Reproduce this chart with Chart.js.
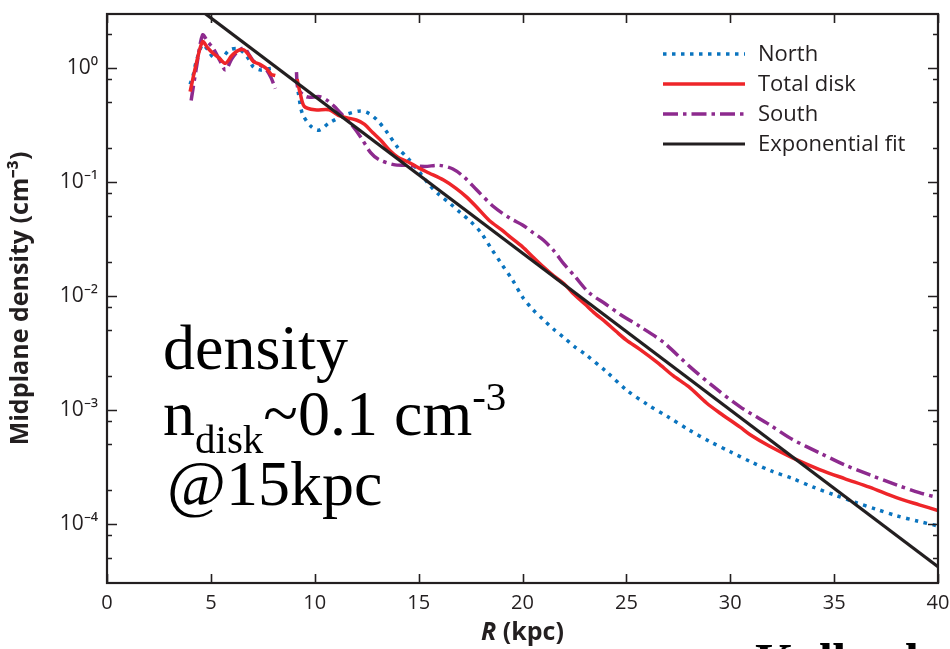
<!DOCTYPE html>
<html>
<head>
<meta charset="utf-8">
<script src="https://cdn.jsdelivr.net/npm/chart.js@4.4.1/dist/chart.umd.min.js"></script>
<style>
  html, body { margin: 0; padding: 0; background: #fff; }
</style>
</head>
<body>
<canvas id="chart" width="950" height="649"></canvas>
<script>
// values (R in kpc, n in cm^-3); null = gap in the curve
const northR = [4.0, 4.15, 4.3, 4.6, 4.85, 5.1, 5.5, 5.9, 6.3, 6.6, 6.85, 7.05, 7.4, 7.7, 8.1, 8.6, 9.2, 9.4, 9.8, 10.2, 10.7, 11.5, 12.2, 12.6, 13.0, 13.5, 14.0, 14.5, 15.0, 15.5, 16.0, 16.5, 17.0, 17.5, 18.0, 18.5, 19.0, 19.5, 20.0, 20.5, 21.0, 21.5, 22.0, 22.5, 23.0, 24.0, 25.0, 26.0, 27.0, 28.0, 29.0, 30.0, 31.0, 32.0, 33.0, 34.0, 35.0, 36.0, 37.0, 38.0, 39.0, 40.0];
const northN = [0.72, 0.87, 1.15, 1.6, 1.45, 1.25, 1.22, 1.44, 1.48, 1.35, 1.18, 1.02, 0.96, 0.98, 1.0, null, 0.62, 0.40, 0.31, 0.285, 0.33, 0.39, 0.42, 0.40, 0.35, 0.27, 0.20, 0.16, 0.125, 0.095, 0.077, 0.065, 0.054, 0.045, 0.036, 0.026, 0.019, 0.014, 0.0098, 0.0076, 0.0062, 0.0051, 0.0043, 0.0036, 0.0031, 0.0022, 0.0015, 0.00112, 0.00087, 0.00067, 0.00053, 0.00043, 0.00035, 0.00029, 0.00025, 0.00021, 0.00018, 0.000155, 0.000135, 0.000118, 0.000106, 0.000096];

const totalR = [4.0, 4.3, 4.6, 4.85, 5.1, 5.4, 5.7, 6.0, 6.3, 6.6, 6.85, 7.05, 7.4, 7.7, 7.9, 8.1, 8.6, 9.15, 9.3, 9.5, 10.0, 10.7, 11.2, 12.0, 12.4, 12.8, 13.2, 13.6, 14.0, 14.5, 15.0, 15.5, 16.2, 16.8, 17.3, 17.8, 18.4, 19.0, 19.4, 20.0, 20.5, 21.0, 21.5, 22.0, 22.4, 23.0, 23.5, 24.0, 24.5, 25.0, 25.65, 26.5, 27.25, 28.0, 28.86, 29.5, 30.46, 31.0, 31.9, 33.0, 34.3, 35.5, 36.7, 38.0, 39.1, 40.0];
const totalN = [0.62, 1.1, 1.70, 1.5, 1.35, 1.22, 1.10, 1.28, 1.42, 1.44, 1.28, 1.14, 1.07, 0.98, 0.88, 0.86, null, 0.80, 0.6, 0.46, 0.43, 0.43, 0.38, 0.35, 0.32, 0.27, 0.23, 0.19, 0.165, 0.15, 0.133, 0.12, 0.104, 0.088, 0.074, 0.06, 0.046, 0.038, 0.033, 0.027, 0.022, 0.018, 0.015, 0.0128, 0.0107, 0.0085, 0.007, 0.0059, 0.0049, 0.0041, 0.0034, 0.0026, 0.0020, 0.0016, 0.00115, 0.00094, 0.00071, 0.0006, 0.00048, 0.00038, 0.0003, 0.00025, 0.00021, 0.00017, 0.000147, 0.000131];

const southR = [4.05, 4.3, 4.6, 4.85, 5.1, 5.4, 5.7, 6.0, 6.3, 6.6, 6.85, 7.05, 7.4, 7.7, 7.9, 8.1, 8.6, 9.12, 9.2, 9.6, 10.25, 10.6, 11.0, 11.2, 11.7, 12.2, 12.7, 13.1, 13.8, 14.4, 15.3, 16.0, 16.65, 17.2, 17.8, 18.6, 19.4, 20.0, 20.5, 21.0, 21.5, 22.0, 22.5, 23.2, 24.0, 24.8, 25.65, 26.8, 28.05, 29.2, 30.46, 31.9, 33.0, 34.3, 35.5, 36.7, 38.0, 39.1, 40.0];
const southN = [0.52, 1.0, 1.95, 1.7, 1.5, 1.2, 0.96, 1.2, 1.4, 1.50, 1.3, 1.15, 1.05, 0.95, 0.82, 0.66, null, 0.92, 0.66, 0.56, 0.56, 0.52, 0.45, 0.41, 0.33, 0.25, 0.18, 0.157, 0.142, 0.14, 0.137, 0.14, 0.13, 0.11, 0.085, 0.061, 0.048, 0.042, 0.036, 0.031, 0.025, 0.019, 0.015, 0.0107, 0.0085, 0.0067, 0.0054, 0.0039, 0.0024, 0.0016, 0.00107, 0.00074, 0.00055, 0.00042, 0.00033, 0.00027, 0.00022, 0.000188, 0.00017];

const fitR = [4.0, 40.0];
const fitN = [3.78, 0.000042];

const xTicks = [0, 5, 10, 15, 20, 25, 30, 35, 40];
const yTicks = [1, 0.1, 0.01, 0.001, 0.0001];
const yMin = 3.03e-5, yMax = 2.98;

const ink = '#231f20';
const sup = { '-': '⁻', '0': '⁰', '1': '¹', '2': '²', '3': '³', '4': '⁴' };
const pow10 = v => '10' + String(Math.round(Math.log10(v))).split('').map(c => sup[c]).join('');
const pts = (xs, ys) => xs.map((r, i) => ({ x: r, y: ys[i] }));

// inward ticks on all four sides plus the box
const frame = {
  id: 'frame',
  afterDraw(chart) {
    const { ctx, chartArea: a, scales: { x, y } } = chart;
    ctx.save();
    ctx.strokeStyle = ink;
    ctx.lineWidth = 1.6;
    ctx.beginPath();
    xTicks.forEach(v => {
      const px = Math.round(x.getPixelForValue(v)) + 0.5;
      ctx.moveTo(px, a.bottom); ctx.lineTo(px, a.bottom - 9);
      ctx.moveTo(px, a.top); ctx.lineTo(px, a.top + 9);
    });
    for (let e = -5; e <= 0; e++) {
      [1, 2, 5, 8].forEach(m => {
        const v = m * Math.pow(10, e);
        if (v < yMin || v > yMax) return;
        const py = Math.round(y.getPixelForValue(v)) + 0.5;
        const len = m === 1 ? 10 : 5;
        ctx.moveTo(a.left, py); ctx.lineTo(a.left + len, py);
        ctx.moveTo(a.right, py); ctx.lineTo(a.right - len, py);
      });
    }
    ctx.stroke();
    ctx.lineWidth = 2.2;
    ctx.strokeRect(a.left, a.top, a.right - a.left, a.bottom - a.top);

    // x-axis title with italic R
    ctx.fillStyle = ink;
    ctx.textBaseline = 'alphabetic';
    const cx = (a.left + a.right) / 2;
    ctx.font = 'italic bold 25px "Open Sans"';
    const w1 = ctx.measureText('R').width;
    ctx.font = 'bold 25px "Open Sans"';
    const w2 = ctx.measureText(' (kpc)').width;
    const x0 = cx - (w1 + w2) / 2;
    ctx.font = 'italic bold 25px "Open Sans"';
    ctx.fillText('R', x0, 640);
    ctx.font = 'bold 25px "Open Sans"';
    ctx.fillText(' (kpc)', x0 + w1, 640);
    ctx.restore();
  }
};

// legend inside the upper right of the plot
const legendBox = {
  id: 'legendBox',
  afterDraw(chart) {
    const { ctx } = chart;
    ctx.save();
    ctx.font = '22px "Open Sans"';
    ctx.textBaseline = 'middle';
    chart.data.datasets.forEach((ds, i) => {
      const yy = 54 + i * 30;
      ctx.strokeStyle = ds.borderColor;
      ctx.lineWidth = ds.borderWidth;
      ctx.setLineDash(ds.borderDash || []);
      ctx.beginPath();
      ctx.moveTo(663, yy); ctx.lineTo(745, yy);
      ctx.stroke();
      ctx.fillStyle = ink;
      ctx.fillText(ds.label, 758, yy + 1);
    });
    ctx.restore();
  }
};

// overlaid slide annotation
const notes = {
  id: 'notes',
  afterDraw(chart) {
    const { ctx } = chart;
    ctx.save();
    ctx.fillStyle = '#000';
    ctx.textBaseline = 'alphabetic';
    const big = '64px "Liberation Serif"', small = '41px "Liberation Serif"';
    ctx.font = big;
    ctx.fillText('density', 163, 369);
    let xx = 163;
    ctx.fillText('n', xx, 435); xx += ctx.measureText('n').width;
    ctx.font = small;
    ctx.fillText('disk', xx, 453); xx += ctx.measureText('disk').width;
    ctx.font = big;
    ctx.fillText('~0.1 cm', xx, 435); xx += ctx.measureText('~0.1 cm').width;
    ctx.font = small;
    ctx.fillText('-3', xx, 410);
    ctx.font = big;
    ctx.fillText('@15kpc', 167, 505);
    ctx.font = 'bold 50px "Liberation Serif"';
    ctx.fillText('Kalberla', 755, 678);
    ctx.restore();
  }
};

new Chart(document.getElementById('chart'), {
  type: 'line',
  data: {
    datasets: [
      { label: 'North', data: pts(northR, northN), borderColor: '#0a74bf', borderWidth: 3.5, borderDash: [3.5, 5.5], order: 3 },
      { label: 'Total disk', data: pts(totalR, totalN), borderColor: '#ee2529', borderWidth: 3.5, order: 1 },
      { label: 'South', data: pts(southR, southN), borderColor: '#8d2a8e', borderWidth: 3.5, borderDash: [15, 5, 3.5, 5], order: 2 },
      { label: 'Exponential fit', data: pts(fitR, fitN), borderColor: ink, borderWidth: 3.2, tension: 0, order: 0 }
    ]
  },
  options: {
    responsive: false,
    animation: false,
    spanGaps: false,
    layout: { padding: { top: 14, right: 12, left: 0, bottom: 0 } },
    elements: { point: { radius: 0 }, line: { tension: 0.3, fill: false } },
    plugins: { legend: { display: false }, tooltip: { enabled: false } },
    scales: {
      x: {
        type: 'linear', min: 0, max: 40,
        grid: { display: false, drawTicks: false },
        border: { display: false },
        afterBuildTicks: s => { s.ticks = xTicks.map(v => ({ value: v })); },
        afterFit: s => { s.height = 66; s.paddingLeft = 0; s.paddingRight = 0; },
        ticks: { padding: 8, color: ink, maxRotation: 0, autoSkip: false, font: { family: 'Open Sans', size: 20 } }
      },
      y: {
        type: 'logarithmic', min: yMin, max: yMax,
        grid: { display: false, drawTicks: false },
        border: { display: false },
        afterBuildTicks: s => { s.ticks = yTicks.map(v => ({ value: v })); },
        afterFit: s => { s.width = 107; s.paddingTop = 0; s.paddingBottom = 0; },
        ticks: { padding: 9, color: ink, autoSkip: false, font: { family: 'Open Sans', size: 21 }, callback: v => pow10(v) },
        title: { display: true, text: 'Midplane density (cm⁻³)', color: ink, padding: { top: 6, bottom: 0 }, font: { family: 'Open Sans', size: 25, weight: 'bold' } }
      }
    }
  },
  plugins: [frame, legendBox, notes]
});
</script>
</body>
</html>
